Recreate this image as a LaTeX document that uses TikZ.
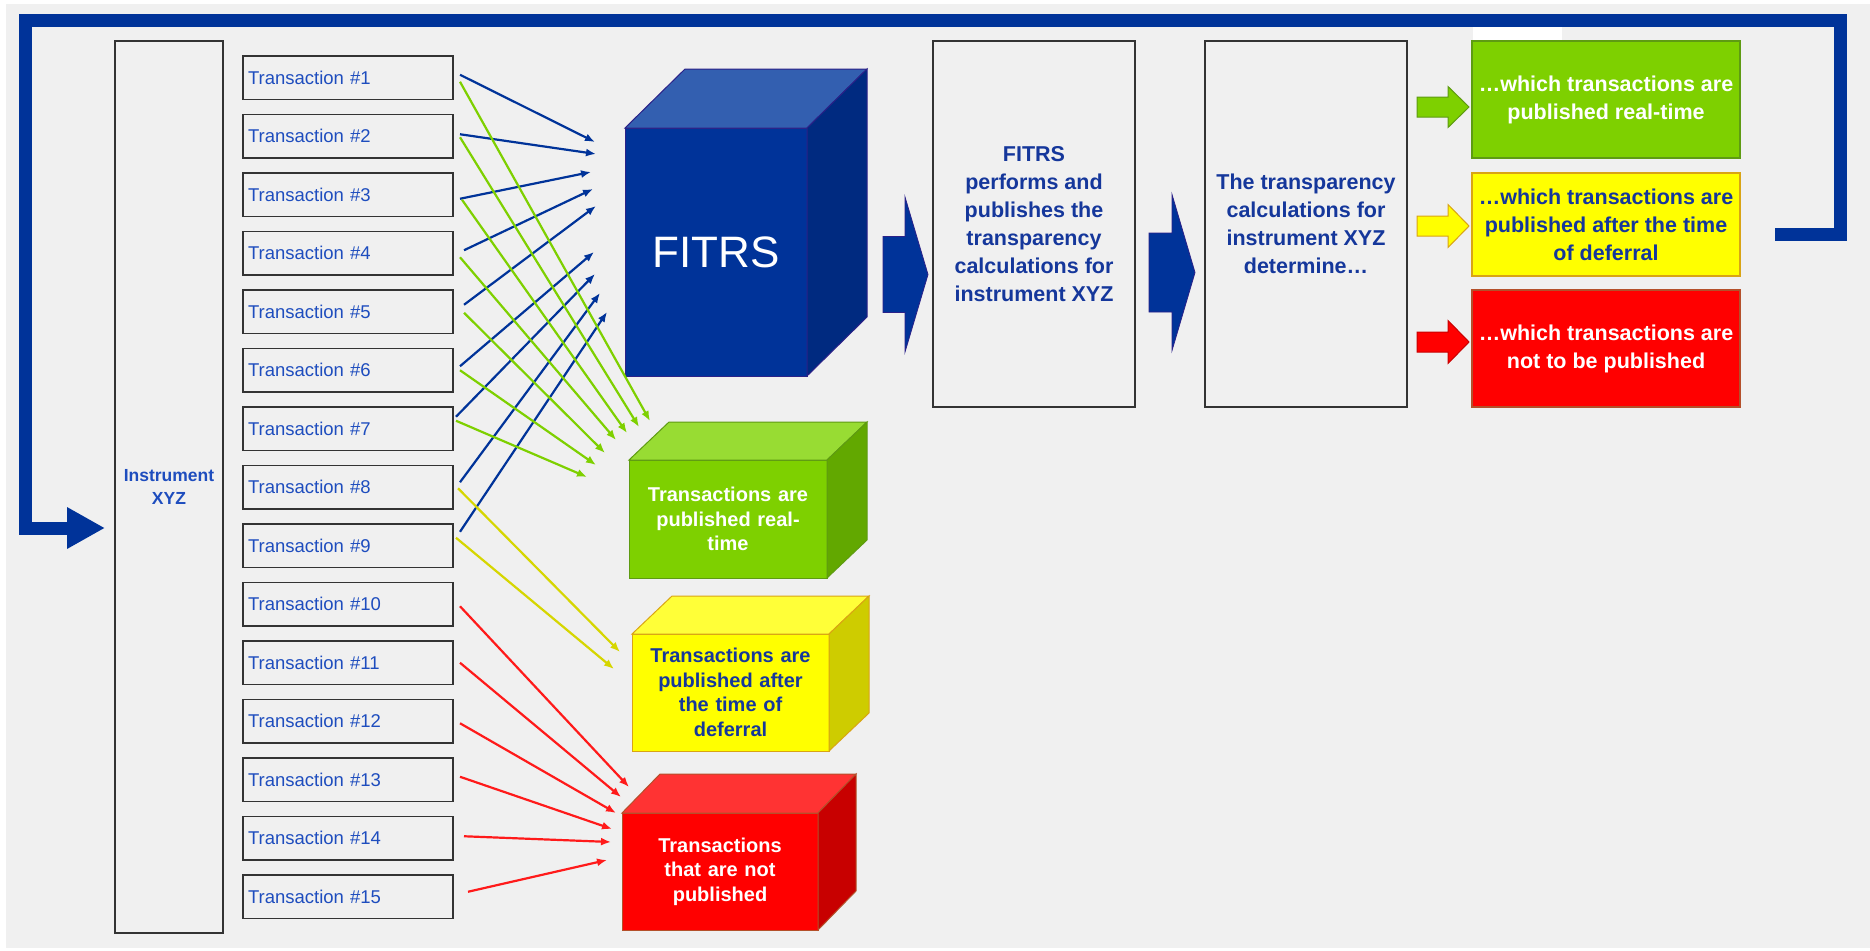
\documentclass[tikz,border=0pt]{standalone}
\usepackage{fontspec}
\setmainfont{Liberation Sans}
\usetikzlibrary{positioning,arrows.meta}
\definecolor{bgray}{HTML}{F0F0F0}
\definecolor{boxline}{HTML}{333333}
\definecolor{esmablue}{HTML}{003399}
\definecolor{txtblue}{HTML}{1E4DBE}
\definecolor{darkblue}{HTML}{15379B}
\definecolor{fitrsfront}{HTML}{003399}
\definecolor{fitrstop}{HTML}{335FB0}
\definecolor{fitrsside}{HTML}{002A80}
\definecolor{fitrsline}{HTML}{2B2188}
\definecolor{greenfront}{HTML}{7ED000}
\definecolor{greentop}{HTML}{98DC33}
\definecolor{greenside}{HTML}{62A800}
\definecolor{greenline}{HTML}{5E9B12}
\definecolor{yellowfront}{HTML}{FFFF00}
\definecolor{yellowtop}{HTML}{FFFF38}
\definecolor{yellowside}{HTML}{CECC00}
\definecolor{yellowline}{HTML}{D9A414}
\definecolor{redfront}{HTML}{FF0000}
\definecolor{redtop}{HTML}{FF3333}
\definecolor{redside}{HTML}{C80000}
\definecolor{redline}{HTML}{B4502A}
\definecolor{arrowyellow}{HTML}{D6D600}
\definecolor{arrowred}{HTML}{FF1A1A}
\newcommand{\blockarrow}[7][]{%
  \filldraw[#1] (#2,#5-#6) -- (#3,#5-#6) -- (#3,#5-#7) -- (#4,#5)
    -- (#3,#5+#7) -- (#3,#5+#6) -- (#2,#5+#6) -- cycle;}

\begin{document}
\begin{tikzpicture}
    [x=1pt,y=-1pt,
     tbox/.style={draw=boxline,line width=1.8pt,fill=bgray,outer sep=0pt,inner sep=5pt,
        minimum height=43.5pt,text width=200pt,align=left,text=txtblue,
        font=\fontsize{18.5}{22}\selectfont},
     plainbox/.style={draw=boxline,line width=1.5pt,fill=bgray,align=center,text=darkblue,
        font=\bfseries\fontsize{21.5}{28}\selectfont},
     outbox/.style={line width=1.2pt,minimum width=268pt,inner sep=0pt,align=center,
        font=\bfseries\fontsize{21.5}{28}\selectfont},
     cubefront/.style={line width=1pt,inner sep=0pt,outer sep=0pt,align=center,
        font=\bfseries\fontsize{20}{24.5}\selectfont},
     bluearr/.style={draw=esmablue,line width=2.2pt,-{Latex[length=10pt,width=8pt]}},
     greenarr/.style={draw=greenfront,line width=2.2pt,-{Latex[length=10pt,width=8pt]}},
     yellowarr/.style={draw=arrowyellow,line width=2.2pt,-{Latex[length=10pt,width=8pt]}},
     redarr/.style={draw=arrowred,line width=2.2pt,-{Latex[length=10pt,width=8pt]}},
     bigarrow/.style={fill=esmablue,draw=fitrsline,line width=0.8pt},
     loopline/.style={draw=esmablue,line width=13pt,-{Triangle[length=38pt,width=39pt]}}]
    \useasboundingbox (0,0) rectangle (1870,950);
    \fill[white] (0,0) rectangle (1870,950);
    \fill[bgray] (6,4) rectangle (1870,948);

    \coordinate (loopstart) at (1775,234);
    \coordinate (loopend) at (105,528);
    \draw[loopline] (loopstart) -- (1840.5,234) -- (1840.5,20.5) -- (25.5,20.5) |- (loopend);
    \fill[white] (1473,27) rectangle (1562,40);

    \node[plainbox,line width=1.8pt,minimum width=108pt,minimum height=892pt,text=txtblue,
        font=\bfseries\fontsize{17.5}{23}\selectfont] (instr) at (169,487) {Instrument\\XYZ};

    \node[tbox] (t1) at (348,77.75) {Transaction \#1};
    \foreach \i [remember=\i as \j (initially 1)] in {2,...,15}
        \node[tbox,below=15pt of t\j] (t\i) {Transaction \#\i};

    \node[cubefront,fill=fitrsfront,draw=fitrsline,minimum width=182pt,minimum height=248pt,
        text=white,font=\fontsize{44}{50}\selectfont] (fitrs) at (716,252) {FITRS};
    \filldraw[fill=fitrstop,draw=fitrsline,line width=1pt] (fitrs.north west) -- ++(60,-59) -- ++(182,0) -- (fitrs.north east) -- cycle;
    \filldraw[fill=fitrsside,draw=fitrsline,line width=1pt] (fitrs.north east) -- ++(60,-59) -- ++(0,248) -- (fitrs.south east) -- cycle;

    \node[cubefront,fill=greenfront,draw=greenline,minimum width=198pt,minimum height=118pt,
        text width=190pt,text=white] (realtime) at (728,519) {Transactions are\\published real-\\time};
    \filldraw[fill=greentop,draw=greenline,line width=1pt] (realtime.north west) -- ++(40,-38) -- ++(198,0) -- (realtime.north east) -- cycle;
    \filldraw[fill=greenside,draw=greenline,line width=1pt] (realtime.north east) -- ++(40,-38) -- ++(0,118) -- (realtime.south east) -- cycle;

    \node[cubefront,fill=yellowfront,draw=yellowline,minimum width=197pt,minimum height=117pt,
        text width=190pt,text=darkblue] (deferred) at (730.5,692.5) {Transactions are\\published after\\the time of\\deferral};
    \filldraw[fill=yellowtop,draw=yellowline,line width=1pt] (deferred.north west) -- ++(40,-38) -- ++(197,0) -- (deferred.north east) -- cycle;
    \filldraw[fill=yellowside,draw=yellowline,line width=1pt] (deferred.north east) -- ++(40,-38) -- ++(0,117) -- (deferred.south east) -- cycle;

    \node[cubefront,fill=redfront,draw=redline,minimum width=196pt,minimum height=117pt,
        text width=190pt,text=white] (notpub) at (720,871.5) {Transactions\\that are not\\published};
    \filldraw[fill=redtop,draw=redline,line width=1pt] (notpub.north west) -- ++(38,-39) -- ++(196,0) -- (notpub.north east) -- cycle;
    \filldraw[fill=redside,draw=redline,line width=1pt] (notpub.north east) -- ++(38,-39) -- ++(0,117) -- (notpub.south east) -- cycle;

    \foreach \i/\dx/\dy/\ex/\ey in {1/7/-3/595/142, 2/7/-2/596/154, 3/7/4/591/172,
        4/11/-3/593/189, 5/11/-7/596/206, 6/7/-4/594/252, 7/3/-12/595/274,
        8/7/-5/600/293, 9/7/-14/607/312}
    {
        \coordinate (fe\i) at (\ex,\ey);
        \draw[bluearr] ([shift={(\dx,\dy)}]t\i.east) -- (fe\i);
    }
    \foreach \i/\dx/\dy/\ex/\ey in {1/7/4/650/421, 2/7/1/639/427, 3/9/5/627/433,
        4/7/4/616/440, 5/11/1/605/453, 6/7/0/596/465, 7/3/-8/587/477}
    {
        \coordinate (ge\i) at (\ex,\ey);
        \draw[greenarr] ([shift={(\dx,\dy)}]t\i.east) -- (ge\i);
    }
    \foreach \i/\dx/\dy/\ex/\ey in {8/5/1/620/652, 9/3/-8/614/669}
    {
        \coordinate (ye\i) at (\ex,\ey);
        \draw[yellowarr] ([shift={(\dx,\dy)}]t\i.east) -- (ye\i);
    }
    \foreach \i/\dx/\dy/\ex/\ey in {10/7/2/629/787, 11/7/0/621/797, 12/7/2/616/813,
        13/7/-3/612/829, 14/11/-2/611/842, 15/15/-5/607/860}
    {
        \coordinate (re\i) at (\ex,\ey);
        \draw[redarr] ([shift={(\dx,\dy)}]t\i.east) -- (re\i);
    }

    \blockarrow[bigarrow]{883}{905}{928}{274.5}{38}{77.5}
    \node[plainbox,minimum width=202pt,minimum height=366pt] (perform) at (1034,224)
        {FITRS\\performs and\\publishes the\\transparency\\calculations for\\instrument XYZ};
    \blockarrow[bigarrow]{1149}{1172}{1195}{272.5}{39.5}{78}
    \node[plainbox,minimum width=202pt,minimum height=366pt] (determine) at (1306,224)
        {The transparency\\calculations for\\instrument XYZ\\determine…};

    \blockarrow[fill=greenfront,draw=greenline,line width=1pt]{1417}{1448}{1469}{107}{10}{20.5}
    \blockarrow[fill=yellowfront,draw=yellowline,line width=1pt]{1417}{1448}{1469}{226}{10}{21.5}
    \blockarrow[fill=redfront,draw=redside,line width=1pt]{1417}{1448}{1469}{342}{10}{21.5}

    \node[outbox,fill=greenfront,draw=greenline,minimum height=117pt,text=white] (outreal) at (1606,99.5)
        {…which transactions are\\published real-time};
    \node[outbox,fill=yellowfront,draw=yellowline,minimum height=103pt,text=darkblue] (outdefer) at (1606,224.5)
        {…which transactions are\\published after the time\\of deferral};
    \node[outbox,fill=redfront,draw=redline,minimum height=117pt,text=white] (outnot) at (1606,348.5)
        {…which transactions are\\not to be published};
\end{tikzpicture}
\end{document}
